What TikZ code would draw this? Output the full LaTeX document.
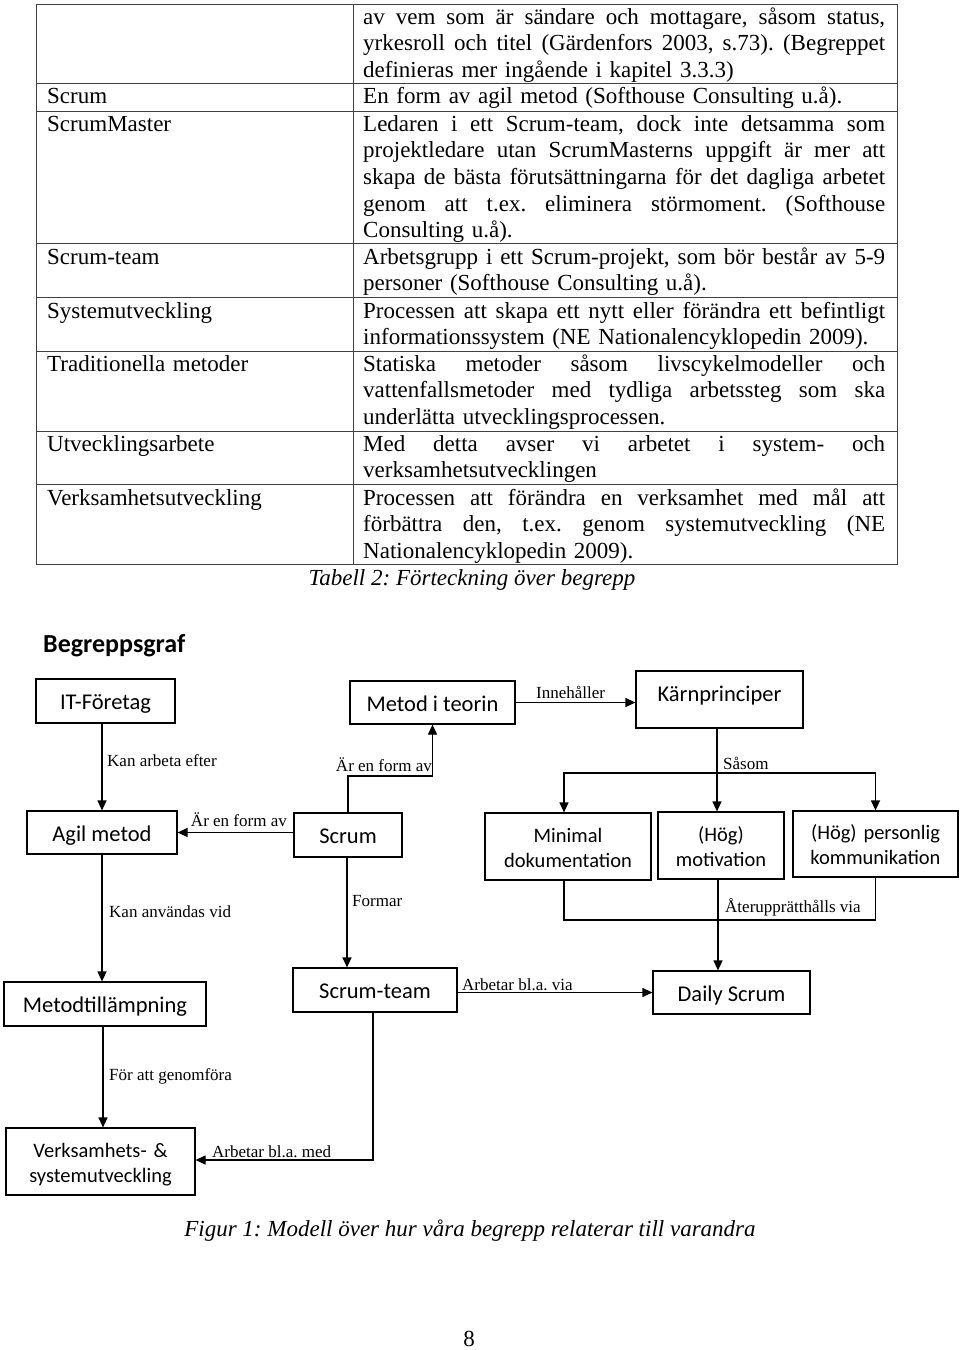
\documentclass[tikz,border=0pt]{standalone}
\usepackage{fontspec}
\setmainfont{Liberation Serif}
\newfontfamily\calfont{Carlito}
\usetikzlibrary{arrows.meta}
\newcommand{\jline}[1]{{\spaceskip=0pt\xspaceskip=0pt\makebox[522pt][s]{#1}}}
\begin{document}
\frenchspacing
\begin{tikzpicture}[x=1pt,y=-1pt,
  tline/.style={draw=black!75, line width=1pt},
  cell/.style={anchor=base west, inner sep=0pt, font=\frenchspacing\fontsize{23}{26.7}\selectfont, align=left, text width=#1},
  cell/.default=300pt,
  box/.style={draw, line width=1.2pt, inner sep=0pt, font=\calfont\fontsize{22.5}{26}\selectfont, text height=17pt, text depth=0pt},
  boxtwo/.style={draw, line width=1.2pt, inner sep=0pt, font=\calfont\fontsize{20.5}{25}\selectfont, align=center, text width=#1, text height=10pt, text depth=19pt},
  lbl/.style={inner sep=0pt, font=\frenchspacing\fontsize{17}{20}\selectfont},
  captxt/.style={inner sep=0pt, font=\frenchspacing\itshape\fontsize{23}{26}\selectfont},
  arr/.style={line width=1.2pt, -{Triangle[length=10pt,width=9pt]}},
  con/.style={line width=1.2pt}
]
\useasboundingbox (0,0) rectangle (960,1350);
\fill[white] (0,0) rectangle (960,1350);

% ---------------- table ----------------
\draw[tline] (36,4) rectangle (897,564);
\draw[tline] (353,4) -- (353,564);
\foreach \yy in {83,111,243,297,351,431,484} \draw[tline] (36,\yy) -- (897,\yy);

\node[cell=522pt] (r0) at (363,24) {\jline{av vem som är sändare och mottagare, såsom status,}\\\jline{yrkesroll och titel (Gärdenfors 2003, s.73). (Begreppet}\\definieras mer ingående i kapitel 3.3.3)};

\node[cell] (l1) at (47,103) {Scrum};
\node[cell=522pt] (r1) at (363,103) {En form av agil metod (Softhouse Consulting u.å).};

\node[cell] (l2) at (47,131) {ScrumMaster};
\node[cell=522pt] (r2) at (363,131) {\jline{Ledaren i ett Scrum-team, dock inte detsamma som}\\\jline{projektledare utan ScrumMasterns uppgift är mer att}\\\jline{skapa de bästa förutsättningarna för det dagliga arbetet}\\\jline{genom att t.ex. eliminera störmoment. (Softhouse}\\Consulting u.å).};

\node[cell] (l3) at (47,264) {Scrum-team};
\node[cell=522pt] (r3) at (363,264) {\jline{Arbetsgrupp i ett Scrum-projekt, som bör består av 5-9}\\personer (Softhouse Consulting u.å).};

\node[cell] (l4) at (47,318) {Systemutveckling};
\node[cell=522pt] (r4) at (363,318) {\jline{Processen att skapa ett nytt eller förändra ett befintligt}\\informationssystem (NE Nationalencyklopedin 2009).};

\node[cell] (l5) at (47,371) {Traditionella metoder};
\node[cell=522pt] (r5) at (363,371) {\jline{Statiska metoder såsom livscykelmodeller och}\\\jline{vattenfallsmetoder med tydliga arbetssteg som ska}\\underlätta utvecklingsprocessen.};

\node[cell] (l6) at (47,451) {Utvecklingsarbete};
\node[cell=522pt] (r6) at (363,451) {\jline{Med detta avser vi arbetet i system- och}\\verksamhetsutvecklingen};

\node[cell] (l7) at (47,505) {Verksamhetsutveckling};
\node[cell=522pt] (r7) at (363,505) {\jline{Processen att förändra en verksamhet med mål att}\\\jline{förbättra den, t.ex. genom systemutveckling (NE}\\Nationalencyklopedin 2009).};

\node[captxt, anchor=base] (tcap) at (472,585) {Tabell 2: Förteckning över begrepp};

% ---------------- graph ----------------
\node[inner sep=0pt, anchor=base west, font=\calfont\bfseries\fontsize{26}{30}\selectfont] (title) at (43,652.5) {Begreppsgraf};

\node[box, minimum width=139pt, minimum height=44pt] (itf) at (105.5,701) {IT-Företag};
\node[box, minimum width=165pt, minimum height=43pt] (met) at (432.5,702.5) {Metod i teorin};
\node[box, minimum width=167pt, minimum height=57pt, text height=12pt, text depth=8pt] (karn) at (719.5,699.5) {Kärnprinciper};
\node[box, minimum width=150pt, minimum height=43pt] (agil) at (102,832.5) {Agil metod};
\node[box, minimum width=108pt, minimum height=44pt] (scrum) at (348,835) {Scrum};
\node[boxtwo=160pt, minimum width=166pt, minimum height=67pt] (mini) at (568,846.5) {Minimal\\dokumentation};
\node[boxtwo=120pt, minimum width=126pt, minimum height=67pt] (motiv) at (721,845.5) {(Hög)\\motivation};
\node[boxtwo=160pt, minimum width=165pt, minimum height=66pt] (pers) at (875.5,844) {(Hög) personlig\\kommunikation};
\node[box, minimum width=202pt, minimum height=44pt] (mtl) at (105,1004) {Metodtillämpning};
\node[box, minimum width=164pt, minimum height=44pt] (st) at (375,990) {Scrum-team};
\node[box, minimum width=157pt, minimum height=43pt] (daily) at (731.5,992.5) {Daily Scrum};
\node[boxtwo=183pt, minimum width=189pt, minimum height=67pt] (verks) at (100.5,1161.5) {Verksamhets- \&\\systemutveckling};

% level coordinates
\coordinate (b1) at (0,776);
\coordinate (b2) at (717,773);
\coordinate (b3) at (718,920);
\coordinate (b4) at (0,1160);

% connectors
\draw[arr] (agil.north |- itf.south) -- (agil.north);
\draw[arr] (scrum.west |- agil.east) -- (agil.east);
\draw[arr] (scrum.north) |- (met.south |- b1) -- (met.south);
\draw[arr] (met.east) -- (met.east -| karn.west);
\draw[arr] (b2 |- karn.south) -- (b2 |- motiv.north);
\draw[arr] (b2) -| ([xshift=-4pt]mini.north);
\draw[arr] (b2) -| (pers.north);
\draw[con] ([xshift=-4pt]mini.south) |- (b3);
\draw[con] (pers.south) |- (b3);
\draw[arr] (b3 |- motiv.south) -- (b3 |- daily.north);
\draw[arr] ([xshift=-1pt]scrum.south) -- ([xshift=-1pt]scrum.south |- st.north);
\draw[arr] (daily.west -| st.east) -- (daily.west);
\draw[arr] (agil.south) -- (agil.south |- mtl.north);
\draw[arr] ([xshift=-2pt]mtl.south) -- ([xshift=-2pt]mtl.south |- verks.north);
\draw[arr] ([xshift=-2pt]st.south) |- (verks.east |- b4);

% connector labels
\node[lbl, anchor=base west] (l_kae) at (107,766) {Kan arbeta efter};
\node[lbl, anchor=base east] (l_efa1) at (432,771) {Är en form av};
\node[lbl, anchor=base east] (l_efa2) at (287,826) {Är en form av};
\node[lbl, anchor=base west] (l_inn) at (536,698) {Innehåller};
\node[lbl, anchor=base west] (l_sas) at (723,769) {Såsom};
\node[lbl, anchor=base west] (l_ate) at (725,912) {Återupprätthålls via};
\node[lbl, anchor=base west] (l_for) at (352,906) {Formar};
\node[lbl, anchor=base west] (l_kav) at (109,917) {Kan användas vid};
\node[lbl, anchor=base west] (l_abv) at (462,990) {Arbetar bl.a. via};
\node[lbl, anchor=base west] (l_fag) at (109,1080) {För att genomföra};
\node[lbl, anchor=base west] (l_abm) at (212,1157) {Arbetar bl.a. med};

\node[captxt, anchor=base] (fcap) at (470,1236) {Figur 1: Modell över hur våra begrepp relaterar till varandra};
\node[inner sep=0pt, anchor=base, font=\fontsize{23}{26}\selectfont] (pnum) at (469,1346) {8};
\end{tikzpicture}
\end{document}
